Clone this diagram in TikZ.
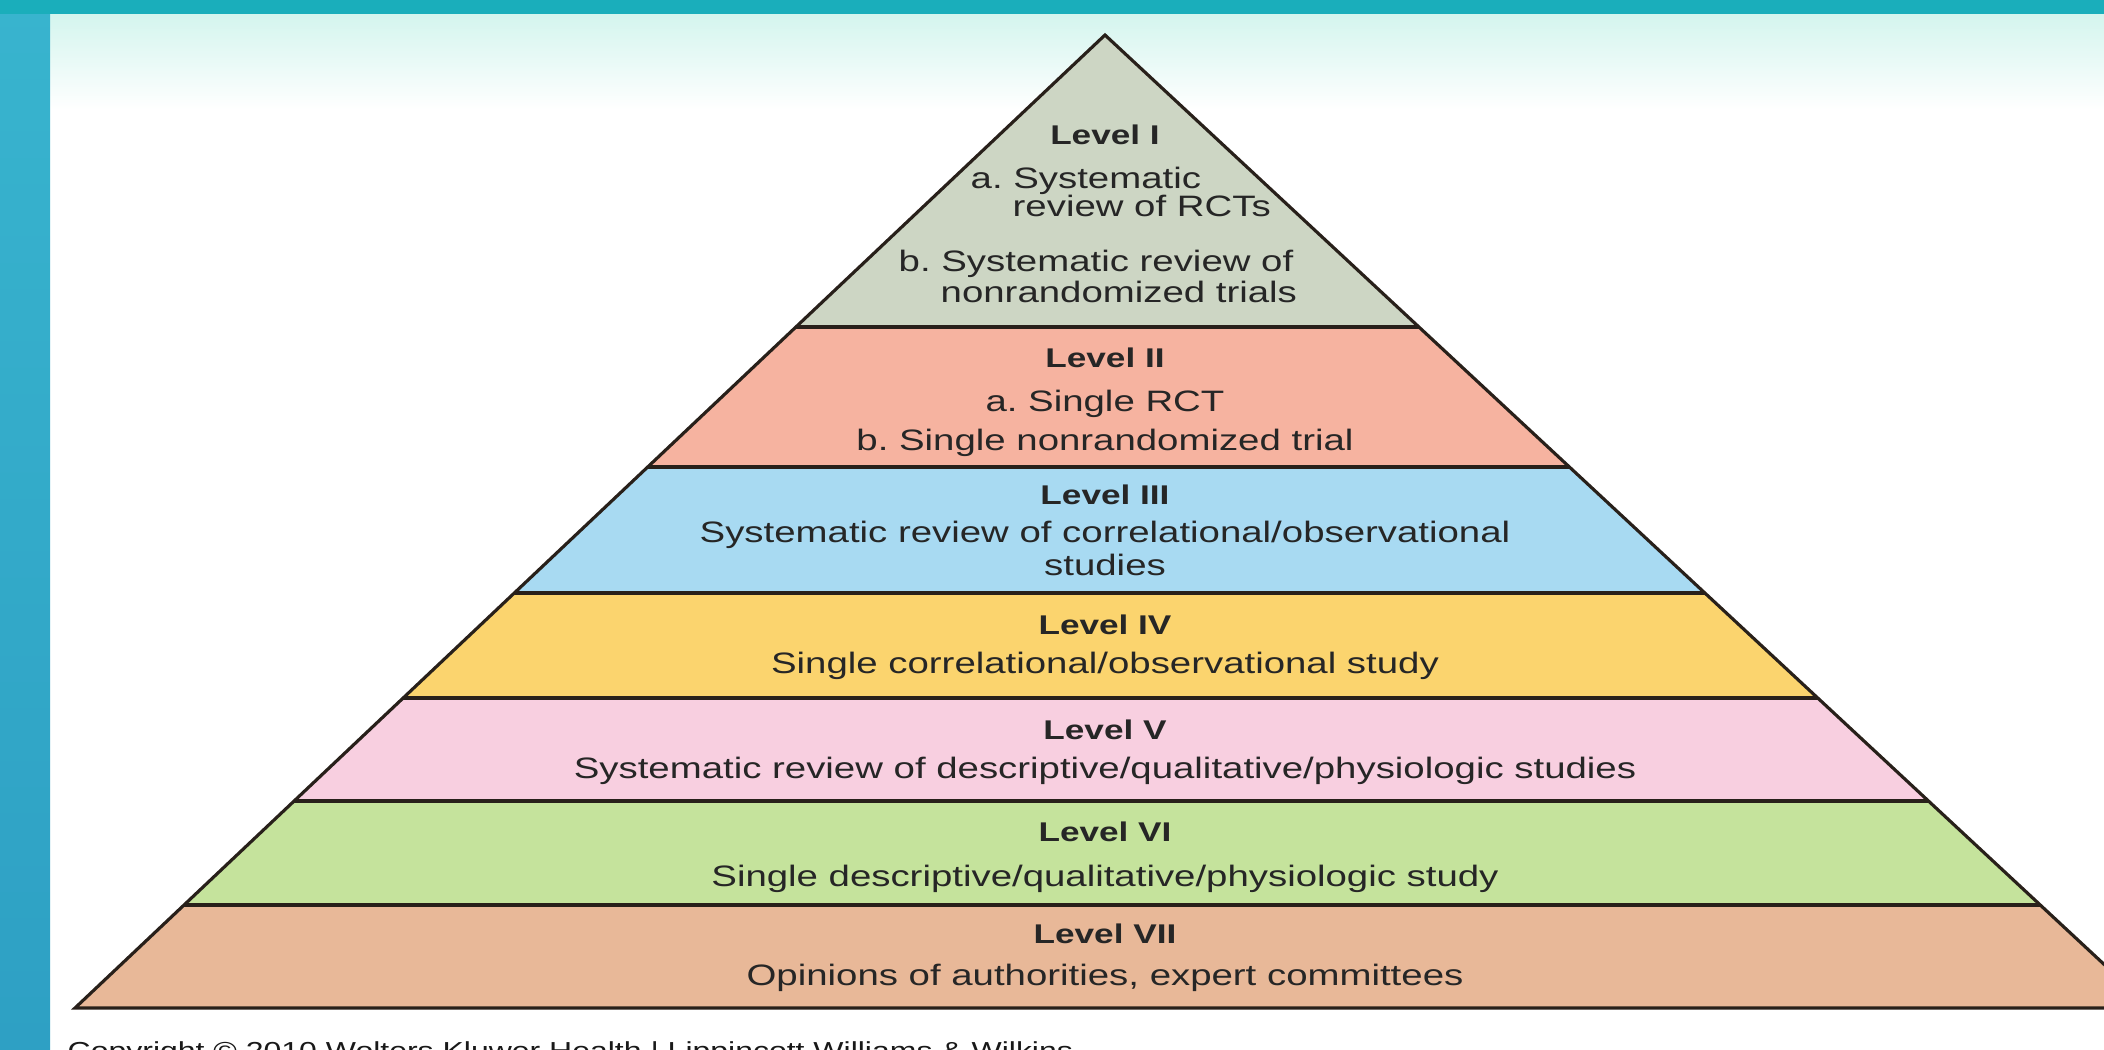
\documentclass[tikz,border=0pt]{standalone}
\usepackage{fontspec}
\usepackage{xcolor}
\usepackage{tikz}
\usetikzlibrary{calc}
\newfontfamily\pyrfont{Liberation Sans}[FakeStretch=1.3]
\frenchspacing

\definecolor{lvlone}{RGB}{205,214,196}
\definecolor{lvltwo}{RGB}{246,179,160}
\definecolor{lvlthree}{RGB}{168,218,242}
\definecolor{lvlfour}{RGB}{251,212,110}
\definecolor{lvlfive}{RGB}{248,207,224}
\definecolor{lvlsix}{RGB}{197,227,156}
\definecolor{lvlseven}{RGB}{232,184,152}
\definecolor{slideteal}{RGB}{56,180,206}
\definecolor{slidetealdk}{RGB}{46,160,196}
\definecolor{slidetop}{RGB}{26,174,187}
\definecolor{mintfade}{RGB}{212,245,238}
\definecolor{tierline}{RGB}{40,32,26}

\tikzset{
  title/.style={font=\pyrfont\bfseries\fontsize{7.7}{9}\selectfont, text=black!85, inner sep=0pt, anchor=mid},
  body/.style={font=\pyrfont\fontsize{8.4}{10}\selectfont, text=black!85, inner sep=0pt, anchor=mid},
  tier/.style={draw=tierline, line width=0.9pt}
}

\begin{document}
\begin{tikzpicture}[x=0.1mm,y=-0.1mm]
    \useasboundingbox (0,0) rectangle (2104,1049);
    \clip (0,0) rectangle (2104,1049);
    % slide
    \fill[white] (0,0) rectangle (2104,1049);
    \shade[top color=mintfade, bottom color=white] (50,14) rectangle (2104,110);
    \shade[top color=slideteal, bottom color=slidetealdk] (0,0) rectangle (50,1049);
    \fill[slidetop] (0,0) rectangle (2104,14);

    \coordinate (apex) at (1105,35);
    \coordinate (bl) at (75,1008);
    \coordinate (br) at (2151,1008);

    % coloured bands
    \begin{scope}
      \clip (apex) -- (bl) -- (br) -- cycle;
      \foreach \ytop/\ybot/\col in {35/327/lvlone, 327/467/lvltwo, 467/593/lvlthree,
          593/698/lvlfour, 698/801/lvlfive, 801/905/lvlsix, 905/1008/lvlseven}
        \fill[\col] (0,\ytop) rectangle (2200,\ybot);
    \end{scope}
    \foreach \y in {327,467,593,698,801,905}
      \draw[tier] ($(apex)!{(\y-35)/973}!(bl)$) -- ($(apex)!{(\y-35)/973}!(br)$);
    \draw[tier, line join=miter] (bl) -- (apex) -- (br) -- cycle;

    % Level I
    \node[title] (t1) at (1105,137) {Level I};
    \node[body, anchor=mid west] (t1a) at (970,181) {a. Systematic};
    \node[body, anchor=mid west] (t1aa) at (1012,209) {review of RCTs};
    \node[body, anchor=mid west] (t1b) at (898,264) {b. Systematic review of};
    \node[body, anchor=mid west] (t1bb) at (940,295) {nonrandomized trials};
    % Level II
    \node[title] (t2) at (1105,360) {Level II};
    \node[body] (t2a) at (1105,404) {a. Single RCT};
    \node[body] (t2b) at (1105,443) {b. Single nonrandomized trial};
    % Level III
    \node[title] (t3) at (1105,497) {Level III};
    \node[body] (t3a) at (1105,535) {Systematic review of correlational/observational};
    \node[body] (t3b) at (1105,568) {studies};
    % Level IV
    \node[title] (t4) at (1105,627) {Level IV};
    \node[body] (t4a) at (1105,666) {Single correlational/observational study};
    % Level V
    \node[title] (t5) at (1105,732) {Level V};
    \node[body] (t5a) at (1105,771) {Systematic review of descriptive/qualitative/physiologic studies};
    % Level VI
    \node[title] (t6) at (1105,834) {Level VI};
    \node[body] (t6a) at (1105,879) {Single descriptive/qualitative/physiologic study};
    % Level VII
    \node[title] (t7) at (1105,936) {Level VII};
    \node[body] (t7a) at (1105,978) {Opinions of authorities, expert committees};

    \node[font=\pyrfont\fontsize{7}{8}\selectfont, text=black!90, inner sep=0pt, anchor=north west] (copy)
      at (67,1041) {Copyright © 2010 Wolters Kluwer Health | Lippincott Williams \& Wilkins};
\end{tikzpicture}
\end{document}
